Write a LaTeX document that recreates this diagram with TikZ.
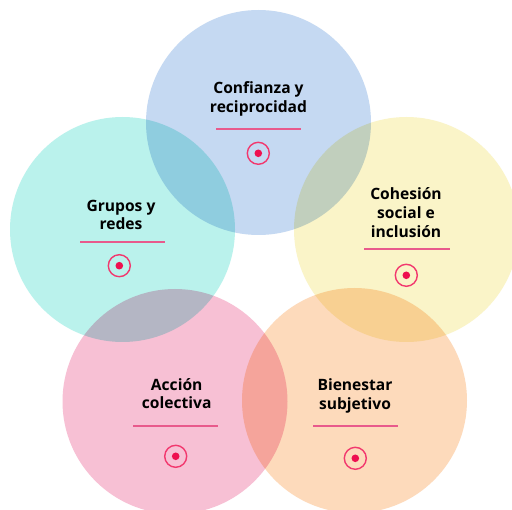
\documentclass[tikz,border=0pt]{standalone}
\usepackage{fontspec}
\setmainfont{Open Sans}
\usepackage{tikz}
\usetikzlibrary{positioning}
\definecolor{trustc}{HTML}{C5D9F2}
\definecolor{groupc}{HTML}{BAF2EC}
\definecolor{cohec}{HTML}{FAF4C8}
\definecolor{actc}{HTML}{F7C0D4}
\definecolor{wellc}{HTML}{FDDABB}
\definecolor{rulec}{HTML}{E85A8C}
\definecolor{ringc}{HTML}{F2386E}
\definecolor{dotc}{HTML}{EE1050}

\begin{document}
\begin{tikzpicture}[x=1pt,y=-1pt,
  disc/.style={circle,draw=none,minimum size=225pt,inner sep=0pt},
  lbl/.style={font=\bfseries\fontsize{15.6}{18.8}\selectfont,align=center,text=black,anchor=base},
  rule/.style={draw=rulec,line width=1.2pt},
  bullseye/.style={circle,draw=ringc,line width=1.4pt,minimum size=22pt,inner sep=0pt,
    path picture={\fill[dotc] (path picture bounding box.center) circle (3.8pt);}}]
\useasboundingbox (0,0) rectangle (512,510);
\fill[white] (0,0) rectangle (512,510);
\clip (0,0) rectangle (512,510);

% the five overlapping discs
\begin{scope}[blend group=multiply]
\node[disc,fill=trustc] (trust) at (258.5,122.5) {};
\node[disc,fill=groupc] (groups) at (122.5,229.5) {};
\node[disc,fill=cohec] (cohesion) at (406.5,229.5) {};
\node[disc,fill=actc] (action) at (175.0,401.5) {};
\node[disc,fill=wellc] (wellbeing) at (354.5,400.5) {};
\end{scope}

% labels (base = last line), rules and markers
\node[lbl] (trustl) at (258.5,112.3) {Confianza y\\reciprocidad};
\draw[rule] (216,129) -- (301,129);
\node[bullseye] (trustm) at (258.3,153.3) {};

\node[lbl] (groupsl) at (121.0,230.0) {Grupos y\\redes};
\draw[rule] (80,242) -- (165,242);
\node[bullseye] (groupsm) at (119.3,265.7) {};

\node[lbl] (cohesionl) at (406.0,237.3) {Cohesión\\social e\\inclusión};
\draw[rule] (364,249) -- (450,249);
\node[bullseye] (cohesionm) at (406.3,275.3) {};

\node[lbl] (actionl) at (176.7,409.0) {Acción\\colectiva};
\draw[rule] (133,426) -- (218,426);
\node[bullseye] (actionm) at (175.7,456.3) {};

\node[lbl] (wellbeingl) at (355.0,409.3) {Bienestar\\subjetivo};
\draw[rule] (313,426) -- (398,426);
\node[bullseye] (wellbeingm) at (355.3,458.3) {};
\end{tikzpicture}
\end{document}
